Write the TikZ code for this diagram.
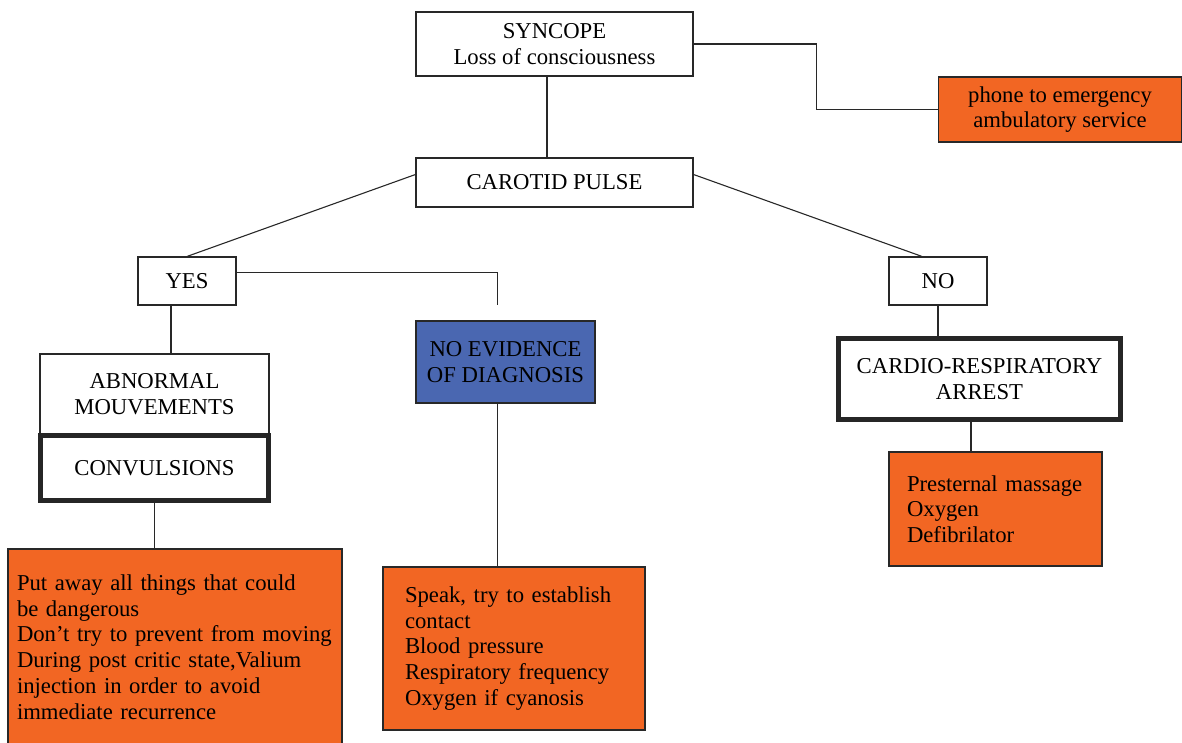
\documentclass[tikz,border=0pt]{standalone}
\usepackage{fontspec}
\setmainfont{Liberation Serif}
\definecolor{actorange}{RGB}{242,102,35}
\definecolor{evblue}{RGB}{74,103,177}
\definecolor{edge}{RGB}{40,40,40}
\begin{document}
\begin{tikzpicture}[x=1pt,y=-1pt,
  every node/.style={font=\fontsize{22.7}{25.7}\selectfont},
  plain/.style={draw=edge,line width=1.1pt,fill=white,inner sep=3pt,align=center},
  heavy/.style={draw=black!85,line width=5pt,fill=white,inner sep=3pt,align=center},
  evbox/.style={draw=edge,line width=1.1pt,fill=evblue,inner sep=3pt,align=center},
  actbox/.style={draw=edge,line width=1.1pt,fill=actorange,inner ysep=3pt,align=left},
  conn/.style={draw=edge,line width=1.1pt}]
\useasboundingbox (0,0) rectangle (1182,743);
\clip (0,0) rectangle (1182,743);

\node[plain,minimum width=277pt,minimum height=64pt] (syn) at (554.5,44) {SYNCOPE\\Loss of consciousness};
\node[plain,minimum width=277pt,minimum height=49pt] (car) at (554.5,182.5) {CAROTID PULSE};
\node[actbox,align=center,minimum width=243pt,minimum height=65pt] (phone) at (1060,109.5) {phone to emergency\\ambulatory service};
\node[plain,minimum width=98pt,minimum height=48pt] (yes) at (187,281) {YES};
\node[plain,minimum width=98pt,minimum height=48pt] (no) at (938,281) {NO};
\node[evbox,minimum width=179pt,minimum height=82pt] (noev) at (505.5,362) {NO EVIDENCE\\OF DIAGNOSIS};
\node[plain,minimum width=229pt,minimum height=81pt] (abn) at (154.5,394.5) {ABNORMAL\\MOUVEMENTS};
\node[heavy,minimum width=228pt,minimum height=65pt] (conv) at (154.5,468) {CONVULSIONS};
\node[heavy,minimum width=282pt,minimum height=81pt] (card) at (979.5,379) {CARDIO-RESPIRATORY\\ARREST};
\node[actbox,inner xsep=18pt,text width=177pt,minimum width=213pt,minimum height=114pt] (pres) at (995.5,509) {\mbox{Presternal massage}\\\mbox{Oxygen}\\\mbox{Defibrilator}};
\node[actbox,inner xsep=9pt,text width=316pt,minimum width=334pt,minimum height=196pt] (act1) at (175,647) {\mbox{Put away all things that could}\\\mbox{be dangerous}\\\mbox{Don't try to prevent from moving}\\\mbox{During post critic state,Valium}\\\mbox{injection in order to avoid}\\\mbox{immediate recurrence}};
\node[actbox,inner xsep=22pt,text width=218pt,minimum width=262pt,minimum height=163pt] (act2) at (514,648.5) {\mbox{Speak, try to establish}\\\mbox{contact}\\\mbox{Blood pressure}\\\mbox{Respiratory frequency}\\\mbox{Oxygen if cyanosis}};

\coordinate (k1) at (816.5,44);
\coordinate (k2) at (497.5,305);

\draw[conn] ([xshift=-7.5pt]syn.south) -- ([xshift=-7.5pt]car.north);
\draw[conn] (syn.east) -- (k1) |- (phone.west);
\draw[conn] ([yshift=8pt]car.west) -- (yes.north);
\draw[conn] ([yshift=8pt]car.east) -- ([xshift=-16pt]no.north);
\draw[conn] ([yshift=8.5pt]yes.east) -| (k2);
\draw[conn] ([xshift=-16pt]yes.south) -- ([xshift=-16pt]yes.south |- abn.north);
\draw[conn] (conv.south) -- (conv.south |- act1.north);
\draw[conn] ([xshift=-8pt]noev.south) -- ([xshift=-8pt]noev.south |- act2.north);
\draw[conn] (no.south) -- (no.south |- card.north);
\draw[conn] ([xshift=-8.5pt]card.south) -- ([xshift=-8.5pt]card.south |- pres.north);
\end{tikzpicture}
\end{document}
